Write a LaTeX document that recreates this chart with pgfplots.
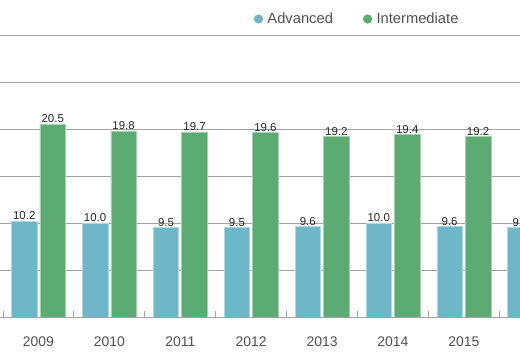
\documentclass[border=0pt]{standalone}
\usepackage{pgfplots}
\pgfplotsset{compat=1.18}
\usepackage{fontspec}
\setmainfont{Liberation Sans}
\definecolor{adv}{HTML}{6DB7C8}
\definecolor{inter}{HTML}{5BAB72}
\definecolor{gridc}{HTML}{A3A3A3}
\definecolor{txt}{HTML}{505050}
\begin{document}
\begin{tikzpicture}
\begin{axis}[
  at={(0bp,43bp)}, anchor=south west,
  scale only axis, width=577.3bp, height=282bp,
  xmin=-0.543, xmax=7.6, ymin=0, ymax=30,
  axis line style={draw=none},
  ybar=3bp, bar width=25.5bp,
  ytick={0,5,...,30}, yticklabels={}, ymajorgrids,
  major grid style={gridc, line width=0.9bp},
  ytick style={draw=none},
  xtick={0,...,7},
  xticklabels={2009,2010,2011,2012,2013,2014,2015,2016},
  x tick style={draw=none},
  tick pos=left,
  xticklabel style={font=\fontsize{14}{14}\selectfont, text=txt, anchor=base, yshift=-25.7bp},
  extra x ticks={-0.5,0.5,...,7.5},
  extra x tick labels={},
  extra x tick style={major tick length=6bp, tick align=inside, x tick style={draw=gridc, line width=0.9bp}},
  nodes near coords,
  nodes near coords style={font=\fontsize{11.5}{11.5}\selectfont, text=black!85, anchor=south, inner sep=1bp,
    /pgf/number format/.cd, fixed, fixed zerofill, precision=1},
  every node near coord/.append style={/pgf/number format/assume math mode=true},
  legend columns=2,
  legend style={at={(0.4395,1.0567)}, anchor=west, draw=none, fill=none, inner sep=0pt,
    font=\fontsize{14.8}{14.8}\selectfont, text=txt,
    /tikz/every even column/.append style={column sep=28bp},
    nodes={inner sep=2bp}},
]
\addplot[fill=adv, draw=adv!55!white, line width=0.6bp,
  legend image code/.code={\node[circle, fill=adv, draw=none, inner sep=0pt, minimum size=9.2bp] at (4.6bp,0bp) {}; \path[draw=none, fill=none] (0bp,0bp) -- (11.5bp,0bp);}]
  coordinates {(0,10.2) (1,10.0) (2,9.5) (3,9.5) (4,9.6) (5,10.0) (6,9.6) (7,9.5)};
\addlegendentry{Advanced}
\addplot[fill=inter, draw=inter!55!white, line width=0.6bp,
  legend image code/.code={\node[circle, fill=inter, draw=none, inner sep=0pt, minimum size=9.2bp] at (4.6bp,0bp) {}; \path[draw=none, fill=none] (0bp,0bp) -- (11.5bp,0bp);}]
  coordinates {(0,20.5) (1,19.8) (2,19.7) (3,19.6) (4,19.2) (5,19.4) (6,19.2) (7,19.0)};
\addlegendentry{Intermediate}
\draw[gridc, line width=0.9bp] (axis cs:-0.543,0) -- (axis cs:7.6,0);
\end{axis}
\pgfresetboundingbox
\path[use as bounding box] (0bp,0bp) rectangle (520bp,360bp);
\end{tikzpicture}
\end{document}
